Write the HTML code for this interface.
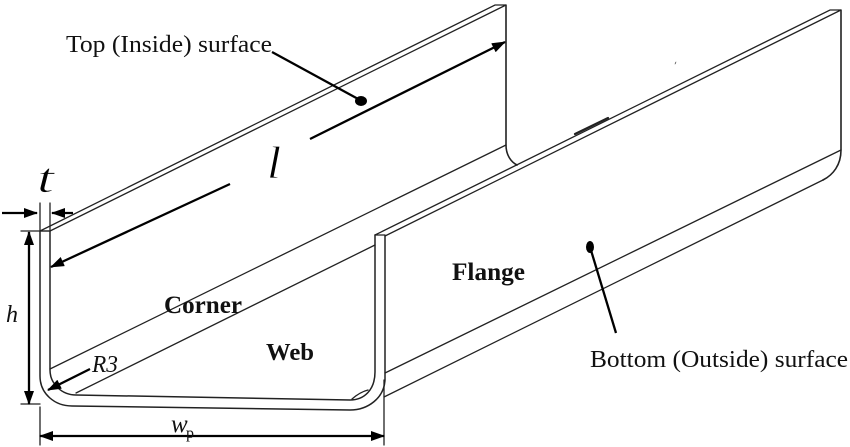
<!DOCTYPE html>
<html><head><meta charset="utf-8"><style>
html,body{margin:0;padding:0;background:#fff}
svg{display:block}
text{font-family:"Liberation Serif",serif;fill:#111}
.b{font-weight:bold}
.hand{fill:#000;stroke:#fff;stroke-width:.7px}
</style></head><body>
<svg width="850" height="447" viewBox="0 0 850 447" xmlns="http://www.w3.org/2000/svg">
<defs>
<marker id="a" markerWidth="14" markerHeight="10" refX="13" refY="5" orient="auto-start-reverse" markerUnits="userSpaceOnUse"><path d="M0 0L14 5L0 10Z" fill="#000"/></marker>
</defs>
<g fill="none" stroke="#222" stroke-width="1.3" stroke-linecap="round">
<!-- cross section -->
<path d="M40 231V376C40 394 55 406 72 406L350 410C368 410 384 398 385 380V236" stroke-width="1.5"/>
<path d="M50 231V370C50 384 62 395 76 395L350 400C364 400 375 390 375 372V235" stroke-width="1.5"/>
<path d="M40 231H50M375 235H385M352 399Q360 392 368 390"/>
<!-- left flange top -->
<path d="M40 231L495 5H506L50 231"/>
<path d="M506 5V145C506 155 511 162 517 165" stroke-width="1.6"/>
<path d="M50 369L506 145"/>
<path d="M76 393L375 245"/>
<!-- right flange -->
<path d="M375 235L830 10H841L385 236"/>
<path d="M841 10V150C841 165 833 175 823 180" stroke-width="1.6"/>
<path d="M385 373L841 150"/>
<path d="M384 397L823 180"/>
<path d="M575 134L608 118" stroke-width="2.2"/>
<path d="M675 64L676 62" stroke-width="0.6"/>
<!-- dimension extents -->
<path d="M40 203V231M50 203V231M21 231H50M21 404H40M40 407V445M384 380V445"/>
</g>
<g fill="none" stroke="#000" stroke-width="2.3">
<path d="M2 213H37" marker-end="url(#a)"/>
<path d="M73 213H52" marker-end="url(#a)"/>
<path d="M29 404V232" marker-start="url(#a)" marker-end="url(#a)"/>
<path d="M40 436H384" marker-start="url(#a)" marker-end="url(#a)"/>
<path d="M230 184L51 267" marker-end="url(#a)"/>
<path d="M310 139L505 42" marker-end="url(#a)"/>
<path d="M90 369L48 390" marker-end="url(#a)"/>
<path d="M272 52L360 100"/>
<path d="M616 333L590 247"/>
</g>
<ellipse cx="361" cy="101" rx="6" ry="5" fill="#000"/>
<ellipse cx="590" cy="247" rx="4" ry="6" fill="#000"/>
<text x="66" y="52" font-size="24" textLength="206" lengthAdjust="spacingAndGlyphs">Top (Inside) surface</text>
<text x="590" y="367" font-size="24" textLength="258" lengthAdjust="spacingAndGlyphs">Bottom (Outside) surface</text>
<text class="b" x="452" y="280" font-size="25" textLength="73" lengthAdjust="spacingAndGlyphs">Flange</text>
<text class="b" x="164" y="313" font-size="25" textLength="78" lengthAdjust="spacingAndGlyphs">Corner</text>
<text class="b" x="266" y="360" font-size="24" textLength="48" lengthAdjust="spacingAndGlyphs">Web</text>
<text x="6" y="322" font-size="24" font-style="italic">h</text>
<text x="92" y="372" font-size="24" font-style="italic" textLength="26" lengthAdjust="spacingAndGlyphs">R3</text>
<text x="171" y="432" font-size="25" font-style="italic">w</text>
<text x="186" y="438" font-size="16">p</text>
<text class="hand" x="37" y="192" font-size="42" font-style="italic" textLength="17" lengthAdjust="spacingAndGlyphs">t</text>
<text class="hand" x="267" y="178" font-size="46" font-style="italic" textLength="14" lengthAdjust="spacingAndGlyphs">l</text>
</svg>
</body></html>
